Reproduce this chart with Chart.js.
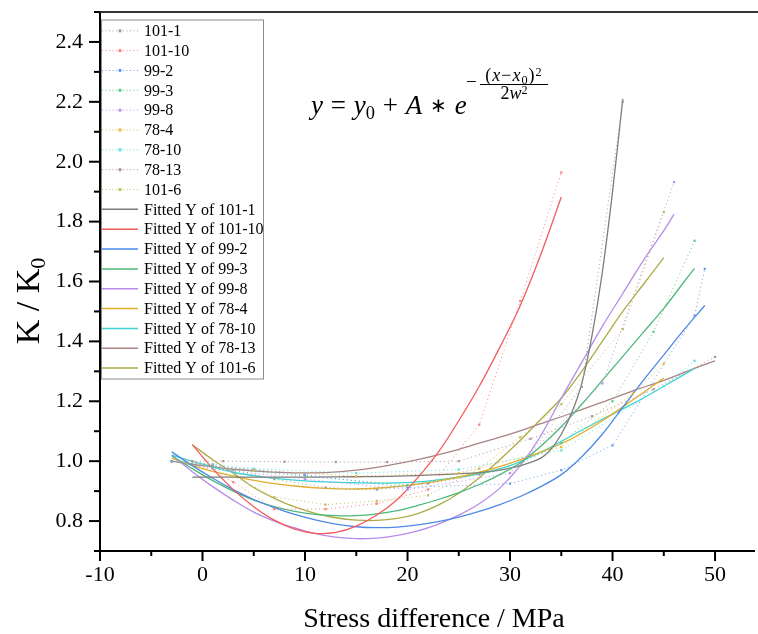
<!DOCTYPE html>
<html>
<head>
<meta charset="utf-8">
<script src="https://cdn.jsdelivr.net/npm/chart.js@4.4.0/dist/chart.umd.min.js"></script>
<style>
  html, body { margin: 0; padding: 0; background: #fff; }
  #wrap { position: relative; width: 758px; height: 634px; }
  #formula { position: absolute; left: 0; top: 0; font-family: "Liberation Serif", "Times New Roman", serif; color: #000; }
  #fmain { position: absolute; left: 311px; top: 92px; font-size: 27px; line-height: 27px; white-space: nowrap; word-spacing: 1px; }
  #fmain .ast { font-size: 0.75em; position: relative; top: -2px; }
  #fminus { position: absolute; left: 466px; top: 73px; font-size: 19px; line-height: 18px; }
  #ffrac { position: absolute; left: 480px; top: 66px; width: 68px; text-align: center; white-space: nowrap; }
  #fnum { display: block; font-size: 18px; line-height: 18px; border-bottom: 1px solid #000; letter-spacing: 1px; }
  #fden { display: block; font-size: 18px; line-height: 14px; padding-top: 1px; }
  sub { font-size: 0.68em; vertical-align: -0.25em; line-height: 0; }
  sup { font-size: 0.68em; vertical-align: 0.45em; line-height: 0; }
</style>
</head>
<body>
<div id="wrap">
  <canvas id="chart" width="758" height="634"></canvas>
  <div id="formula">
    <span id="fmain"><i>y</i> = <i>y</i><sub>0</sub> + <i>A</i> <span class="ast">∗</span> <i>e</i></span>
    <span id="fminus">−</span>
    <span id="ffrac"><span id="fnum">(<i>x</i>−<i>x</i><sub>0</sub>)<sup>2</sup></span><span id="fden">2<i>w</i><sup>2</sup></span></span>
  </div>
</div>
<script>
// ---------- measured points (dotted) ----------
const x101_1 = [-1, 3, 7, 12, 17, 22, 27, 31, 37, 41];
const y101_1 = [1.0, 0.97, 0.94, 0.912, 0.905, 0.925, 0.955, 0.985, 1.248, 2.2];
const x101_10 = [-1, 3, 7, 12, 17, 22, 27, 31, 35];
const y101_10 = [1.0, 0.93, 0.84, 0.84, 0.858, 0.905, 1.122, 1.535, 1.964];
const x99_2 = [-3, 1, 10, 20, 30, 35, 40, 48, 49];
const y99_2 = [1.0, 0.985, 0.955, 0.912, 0.925, 0.97, 1.053, 1.486, 1.642];
const x99_3 = [-3, 1, 10, 20, 30, 35, 40, 44, 48];
const y99_3 = [1.0, 0.98, 0.95, 0.92, 0.975, 1.06, 1.2, 1.432, 1.736];
const x99_8 = [-3, 1, 10, 20, 30, 39, 46];
const y99_8 = [1.0, 0.975, 0.94, 0.905, 0.96, 1.26, 1.932];
const x78_4 = [-3, 1, 5, 15, 25, 35, 42, 45];
const y78_4 = [1.0, 0.985, 0.97, 0.95, 0.96, 1.047, 1.226, 1.326];
const x78_10 = [-3, 1, 5, 15, 25, 35, 45, 48];
const y78_10 = [1.0, 0.99, 0.975, 0.96, 0.972, 1.036, 1.25, 1.335];
const x78_13 = [-3, 2, 8, 13, 18, 25, 32, 38, 44, 50];
const y78_13 = [1.0, 1.0, 0.998, 0.997, 0.997, 1.0, 1.075, 1.15, 1.24, 1.348];
const x101_6 = [-1, 3, 7, 12, 17, 22, 27, 31, 35, 41, 45];
const y101_6 = [1.0, 0.95, 0.88, 0.855, 0.867, 0.886, 0.975, 1.08, 1.19, 1.441, 1.832];

// ---------- fitted curves ----------
const fx101_1 = [-1, 3, 7, 11, 15, 19, 23, 27, 29, 31, 33, 34, 35, 36, 37, 38, 39, 40, 41];
const fy101_1 = [0.947, 0.947, 0.947, 0.947, 0.948, 0.95, 0.955, 0.962, 0.97, 0.985, 1.01, 1.04, 1.09, 1.16, 1.26, 1.42, 1.63, 1.9, 2.21];
const fx101_10 = [-1, 1, 3, 5, 7, 9, 11, 13, 15, 17, 19, 21, 23, 25, 27, 29, 31, 33, 35];
const fy101_10 = [1.055, 0.975, 0.905, 0.848, 0.803, 0.773, 0.759, 0.762, 0.783, 0.82, 0.872, 0.945, 1.03, 1.135, 1.25, 1.38, 1.52, 1.69, 1.882];
const fx99_2 = [-3, -1, 1, 3, 5, 7, 9, 11, 13, 15, 17, 19, 21, 23, 25, 27, 29, 31, 33, 35, 37, 39, 41, 43, 45, 47, 49];
const fy99_2 = [1.031, 0.985, 0.943, 0.905, 0.872, 0.845, 0.822, 0.804, 0.79, 0.781, 0.778, 0.78, 0.787, 0.798, 0.813, 0.832, 0.855, 0.882, 0.915, 0.955, 1.015, 1.09, 1.18, 1.27, 1.355, 1.44, 1.52];
const fx99_3 = [-3, -1, 1, 3, 5, 7, 9, 11, 13, 15, 17, 19, 21, 23, 25, 27, 29, 31, 33, 35, 37, 39, 41, 43, 45, 47, 48];
const fy99_3 = [1.018, 0.975, 0.935, 0.9, 0.87, 0.848, 0.832, 0.822, 0.818, 0.818, 0.824, 0.835, 0.852, 0.872, 0.895, 0.922, 0.955, 0.995, 1.05, 1.115, 1.19, 1.27, 1.35, 1.43, 1.51, 1.6, 1.644];
const fx99_8 = [-3, -1, 1, 3, 5, 7, 9, 11, 13, 15, 17, 19, 21, 23, 25, 27, 29, 31, 33, 35, 37, 39, 41, 43, 45, 46];
const fy99_8 = [1.02, 0.965, 0.915, 0.87, 0.83, 0.8, 0.777, 0.758, 0.746, 0.741, 0.743, 0.752, 0.767, 0.79, 0.82, 0.858, 0.91, 0.985, 1.085, 1.21, 1.33, 1.45, 1.56, 1.67, 1.77, 1.825];
const fx78_4 = [-3, 0, 3, 6, 9, 12, 15, 18, 21, 24, 27, 30, 33, 36, 39, 42, 45];
const fy78_4 = [1.01, 0.975, 0.95, 0.93, 0.917, 0.909, 0.907, 0.912, 0.923, 0.94, 0.963, 0.993, 1.03, 1.075, 1.135, 1.205, 1.278];
const fx78_10 = [-3, 0, 3, 6, 9, 12, 15, 18, 21, 24, 27, 30, 33, 36, 39, 42, 45, 48];
const fy78_10 = [1.02, 0.99, 0.963, 0.947, 0.937, 0.931, 0.928, 0.927, 0.931, 0.942, 0.958, 0.985, 1.03, 1.085, 1.14, 1.192, 1.25, 1.31];
const fx78_13 = [-3, 0, 3, 6, 9, 12, 15, 18, 21, 24, 27, 30, 33, 36, 39, 42, 45, 48, 50];
const fy78_13 = [1.0, 0.985, 0.973, 0.965, 0.961, 0.962, 0.97, 0.985, 1.005, 1.03, 1.06, 1.09, 1.125, 1.16, 1.197, 1.235, 1.27, 1.31, 1.335];
const fx101_6 = [-1, 1, 3, 5, 7, 9, 11, 13, 15, 17, 19, 21, 23, 25, 27, 29, 31, 33, 35, 37, 39, 41, 43, 45];
const fy101_6 = [1.055, 1.005, 0.96, 0.912, 0.876, 0.847, 0.826, 0.811, 0.803, 0.802, 0.809, 0.825, 0.853, 0.893, 0.945, 1.005, 1.07, 1.14, 1.21, 1.3, 1.4, 1.5, 1.59, 1.68];

const names = ["101-1", "101-10", "99-2", "99-3", "99-8", "78-4", "78-10", "78-13", "101-6"];
const dotColors = ["#a0a0a0", "#ff8080", "#6a9ff0", "#5ccb8a", "#b98ef0", "#e8b43a", "#5ee0e0", "#b09494", "#c0c060"];
const fitColors = ["#7c7c7c", "#f25c5c", "#4d88e8", "#4cb87a", "#b88be8", "#e0ae2c", "#3fd3d3", "#a88484", "#acac48"];

const xTicks = [-10, 0, 10, 20, 30, 40, 50];
const yTicks = [0.8, 1.0, 1.2, 1.4, 1.6, 1.8, 2.0, 2.2, 2.4];

const measured = [
  [x101_1, y101_1], [x101_10, y101_10], [x99_2, y99_2], [x99_3, y99_3], [x99_8, y99_8],
  [x78_4, y78_4], [x78_10, y78_10], [x78_13, y78_13], [x101_6, y101_6],
];
const fitted = [
  [fx101_1, fy101_1], [fx101_10, fy101_10], [fx99_2, fy99_2], [fx99_3, fy99_3], [fx99_8, fy99_8],
  [fx78_4, fy78_4], [fx78_10, fy78_10], [fx78_13, fy78_13], [fx101_6, fy101_6],
];

const pts = (xs, ys) => xs.map((v, i) => ({ x: v, y: ys[i] }));
const FONT = '"Liberation Serif", "Times New Roman", serif';

const datasets = [];
measured.forEach((s, i) => {
  datasets.push({
    label: names[i],
    data: pts(s[0], s[1]),
    showLine: true,
    borderColor: dotColors[i],
    borderWidth: 1,
    borderDash: [1, 3],
    pointStyle: "rect",
    pointRadius: 1.6,
    pointBackgroundColor: dotColors[i],
    pointBorderWidth: 0,
    tension: 0,
    kind: "dot",
  });
});
fitted.forEach((s, i) => {
  datasets.push({
    label: "Fitted Y of " + names[i],
    data: pts(s[0], s[1]),
    showLine: true,
    borderColor: fitColors[i],
    borderWidth: 1.3,
    pointRadius: 0,
    tension: 0.35,
    kind: "fit",
  });
});

// ticks, frame, axis title, legend
const decor = {
  id: "decor",
  afterDraw(chart) {
    const { ctx, chartArea: a, scales } = chart;
    const xs = scales.x, ys = scales.y;
    ctx.save();
    ctx.strokeStyle = "#000";
    ctx.lineWidth = 2;
    for (let i = 7; i <= 25; i++) {
      const py = ys.getPixelForValue(i / 10);
      const len = i % 2 === 0 ? 11 : 6;
      ctx.beginPath();
      ctx.moveTo(a.left - len, py);
      ctx.lineTo(a.left, py);
      ctx.stroke();
    }
    for (let v = -10; v <= 50; v += 5) {
      const px = xs.getPixelForValue(v);
      const len = v % 10 === 0 ? 10 : 5;
      ctx.beginPath();
      ctx.moveTo(px, a.bottom);
      ctx.lineTo(px, a.bottom + len);
      ctx.stroke();
    }
    // top frame line
    ctx.strokeStyle = "#333";
    ctx.beginPath();
    ctx.moveTo(a.left, a.top);
    ctx.lineTo(758, a.top);
    ctx.stroke();

    // axis titles
    ctx.fillStyle = "#000";
    ctx.font = "28px " + FONT;
    ctx.textAlign = "center";
    ctx.textBaseline = "alphabetic";
    ctx.fillText("Stress difference / MPa", 434, 627);

    ctx.save();
    ctx.translate(39, 301);
    ctx.rotate(-Math.PI / 2);
    ctx.font = "34px " + FONT;
    ctx.textAlign = "left";
    const main = "K / K";
    const w1 = ctx.measureText(main).width;
    ctx.font = "22px " + FONT;
    const w2 = ctx.measureText("0").width;
    const x0 = -(w1 + w2) / 2;
    ctx.font = "34px " + FONT;
    ctx.fillText(main, x0, 0);
    ctx.font = "22px " + FONT;
    ctx.fillText("0", x0 + w1, 6);
    ctx.restore();

    // legend
    const lx = 101, ly = 19.5, lw = 162, lh = 359;
    ctx.fillStyle = "#fff";
    ctx.fillRect(lx, ly, lw, lh);
    ctx.strokeStyle = "#8c8c8c";
    ctx.lineWidth = 1;
    ctx.strokeRect(lx + 0.5, ly + 0.5, lw, lh);
    ctx.font = "16px " + FONT;
    ctx.textAlign = "left";
    ctx.textBaseline = "middle";
    chart.data.datasets.forEach((d, i) => {
      const cy = 30.8 + i * 19.84;
      ctx.save();
      ctx.strokeStyle = d.borderColor;
      if (d.kind === "dot") {
        ctx.lineWidth = 1;
        ctx.setLineDash([1, 2.5]);
      } else {
        ctx.lineWidth = 1.5;
      }
      ctx.beginPath();
      ctx.moveTo(102, cy);
      ctx.lineTo(138, cy);
      ctx.stroke();
      ctx.setLineDash([]);
      if (d.kind === "dot") {
        ctx.fillStyle = d.borderColor;
        ctx.fillRect(118.5, cy - 1.5, 3, 3);
      }
      ctx.restore();
      ctx.fillStyle = "#000";
      ctx.fillText(d.label, 144, cy + 1);
    });
    ctx.restore();
  },
};

new Chart(document.getElementById("chart"), {
  type: "scatter",
  data: { datasets },
  options: {
    responsive: false,
    animation: false,
    layout: { padding: { top: 12, left: 0, right: -4, bottom: 0 } },
    plugins: { legend: { display: false }, tooltip: { enabled: false } },
    scales: {
      x: {
        type: "linear",
        min: -10,
        max: 53.8,
        afterBuildTicks: (s) => { s.ticks = xTicks.map((v) => ({ value: v })); },
        afterFit: (s) => { s.height = 83; s.paddingLeft = 0; s.paddingRight = 0; },
        grid: { display: false, drawTicks: false },
        border: { display: true, color: "#000", width: 2 },
        ticks: {
          autoSkip: false,
          maxRotation: 0,
          padding: 11,
          color: "#000",
          font: { family: FONT, size: 22 },
          callback: (v) => String(v),
        },
      },
      y: {
        type: "linear",
        min: 0.7,
        max: 2.5,
        afterBuildTicks: (s) => { s.ticks = yTicks.map((v) => ({ value: v })); },
        afterFit: (s) => { s.width = 100; s.paddingTop = 0; s.paddingBottom = 0; },
        grid: { display: false, drawTicks: false },
        border: { display: true, color: "#000", width: 2 },
        ticks: {
          autoSkip: false,
          padding: 17,
          color: "#000",
          font: { family: FONT, size: 22 },
          callback: (v) => v.toFixed(1),
        },
      },
    },
  },
  plugins: [decor],
});
</script>
</body>
</html>
